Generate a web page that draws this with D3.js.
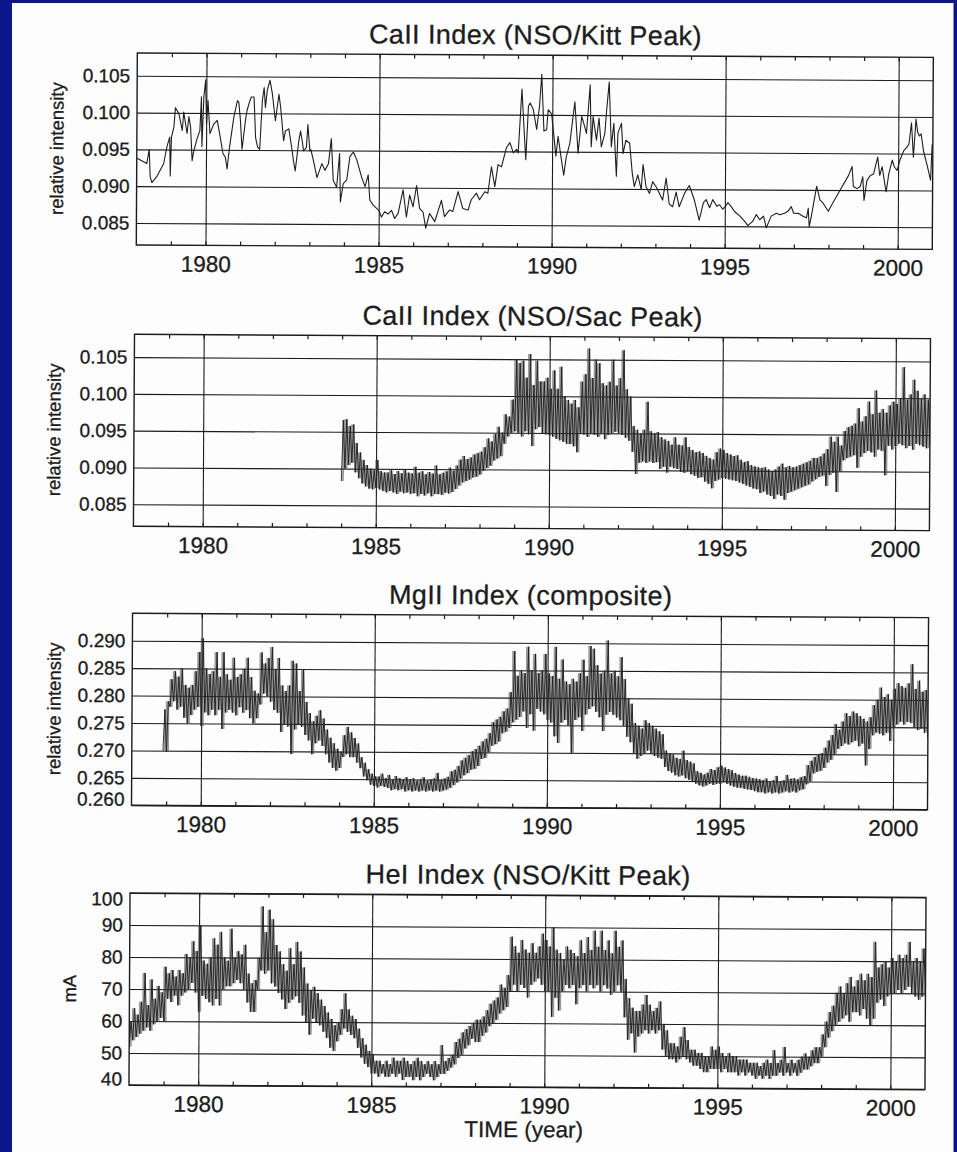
<!DOCTYPE html>
<html><head><meta charset="utf-8">
<script src="https://cdn.jsdelivr.net/npm/d3@7"></script>
<style>body{margin:0;background:#0a168a;}svg{display:block}</style>
</head><body>
<svg id="chart" width="957" height="1152"></svg>
<script>
// ---------------- DATA ----------------
const xTickYears = [1980, 1985, 1990, 1995, 2000];
const minorTickYears = d3.range(1979, 2001);
const timeDomain = [1978, 2001];

const caTicks = [0.085, 0.090, 0.095, 0.100, 0.105];
const mgTicks = [0.260, 0.265, 0.270, 0.275, 0.280, 0.285, 0.290];
const heTicks = [40, 50, 60, 70, 80, 90, 100];

const titles = ["CaII Index (NSO/Kitt Peak)", "CaII Index (NSO/Sac Peak)", "MgII Index (composite)", "HeI Index (NSO/Kitt Peak)"];
const yLabels = ["relative intensity", "relative intensity", "relative intensity", "mA"];
const xLabel = "TIME (year)";

// Panel 1: CaII K, NSO/Kitt Peak (individual measurements)
const kittYears = [1978.01,1978.29,1978.36,1978.39,1978.44,1978.58,1978.78,1978.87,1978.95,1978.97,1979.00,1979.07,1979.11,1979.21,1979.31,1979.35,1979.45,1979.50,1979.55,1979.60,1979.64,1979.74,1979.82,1979.86,1979.88,1979.93,1979.98,1980.01,1980.05,1980.11,1980.22,1980.32,1980.41,1980.49,1980.56,1980.61,1980.68,1980.80,1980.90,1980.94,1980.99,1981.04,1981.14,1981.18,1981.26,1981.30,1981.38,1981.43,1981.49,1981.55,1981.62,1981.67,1981.71,1981.76,1981.84,1981.91,1982.00,1982.10,1982.15,1982.24,1982.29,1982.39,1982.49,1982.53,1982.58,1982.68,1982.73,1982.77,1982.82,1982.90,1982.94,1983.00,1983.03,1983.11,1983.21,1983.35,1983.44,1983.54,1983.62,1983.68,1983.78,1983.86,1983.89,1983.97,1984.07,1984.16,1984.26,1984.36,1984.50,1984.60,1984.69,1984.74,1984.84,1985.00,1985.08,1985.17,1985.27,1985.37,1985.46,1985.56,1985.70,1985.80,1985.89,1985.99,1986.09,1986.18,1986.28,1986.36,1986.47,1986.62,1986.81,1986.90,1987.05,1987.14,1987.29,1987.43,1987.58,1987.67,1987.82,1987.91,1988.06,1988.15,1988.25,1988.35,1988.44,1988.54,1988.68,1988.78,1988.88,1988.97,1989.02,1989.12,1989.18,1989.24,1989.31,1989.36,1989.45,1989.55,1989.63,1989.69,1989.76,1989.84,1989.88,1989.98,1990.03,1990.11,1990.17,1990.27,1990.34,1990.41,1990.51,1990.65,1990.75,1990.85,1990.94,1990.99,1991.09,1991.13,1991.18,1991.28,1991.35,1991.42,1991.52,1991.57,1991.64,1991.71,1991.78,1991.86,1991.90,1992.00,1992.05,1992.13,1992.24,1992.32,1992.38,1992.48,1992.58,1992.63,1992.72,1992.82,1992.91,1993.01,1993.11,1993.20,1993.30,1993.39,1993.49,1993.59,1993.68,1993.83,1993.97,1994.12,1994.26,1994.31,1994.38,1994.46,1994.56,1994.65,1994.77,1994.85,1994.94,1995.02,1995.09,1995.18,1995.28,1995.43,1995.57,1995.67,1995.81,1995.91,1996.01,1996.12,1996.20,1996.34,1996.49,1996.59,1996.73,1996.83,1996.92,1996.99,1997.12,1997.26,1997.36,1997.41,1997.44,1997.50,1997.65,1997.75,1997.84,1997.99,1998.09,1998.33,1998.57,1998.67,1998.71,1998.81,1998.91,1998.98,1999.02,1999.10,1999.20,1999.29,1999.41,1999.47,1999.54,1999.63,1999.66,1999.73,1999.83,1999.89,1999.97,2000.05,2000.16,2000.26,2000.31,2000.38,2000.44,2000.51,2000.56,2000.61,2000.66,2000.73,2000.83,2000.94,2000.98];
const kittValues = [0.0938,0.0931,0.0950,0.0913,0.0905,0.0913,0.0931,0.0954,0.0967,0.0914,0.0967,0.0981,0.1007,0.0999,0.0976,0.1001,0.0972,0.0995,0.0981,0.0935,0.0947,0.0965,0.0976,0.1022,0.0954,0.1022,0.1045,0.0985,0.1017,0.0972,0.0985,0.0990,0.0967,0.0945,0.0940,0.0924,0.0954,0.0995,0.1017,0.1015,0.0990,0.0951,0.0992,0.1004,0.1017,0.1022,0.1022,0.0967,0.0954,0.0951,0.1017,0.1035,0.1008,0.1031,0.1045,0.1026,0.0990,0.1026,0.1008,0.0963,0.0976,0.0979,0.0949,0.0935,0.0922,0.0963,0.0976,0.0965,0.0949,0.0954,0.0985,0.0949,0.0951,0.0935,0.0913,0.0932,0.0923,0.0932,0.0966,0.0909,0.0900,0.0946,0.0880,0.0905,0.0910,0.0942,0.0948,0.0937,0.0914,0.0901,0.0917,0.0883,0.0876,0.0869,0.0860,0.0867,0.0864,0.0869,0.0858,0.0865,0.0897,0.0860,0.0890,0.0874,0.0903,0.0872,0.0867,0.0845,0.0865,0.0854,0.0883,0.0861,0.0870,0.0868,0.0895,0.0872,0.0870,0.0884,0.0893,0.0884,0.0895,0.0893,0.0929,0.0902,0.0932,0.0929,0.0955,0.0962,0.0948,0.0953,0.0948,0.1035,0.0985,0.0939,0.1012,0.1016,0.1007,0.0980,0.1012,0.1055,0.0978,0.0980,0.1007,0.1001,0.0980,0.0944,0.0971,0.0939,0.0918,0.0943,0.0961,0.1018,0.0948,0.0998,0.0984,0.0975,0.1041,0.0957,0.0998,0.0966,0.0996,0.0957,0.0975,0.1007,0.1045,0.0957,0.0989,0.0917,0.0976,0.0989,0.0948,0.0966,0.0962,0.0921,0.0903,0.0919,0.0899,0.0933,0.0903,0.0894,0.0910,0.0903,0.0894,0.0885,0.0915,0.0880,0.0876,0.0896,0.0876,0.0894,0.0905,0.0885,0.0858,0.0868,0.0882,0.0886,0.0875,0.0886,0.0877,0.0879,0.0873,0.0877,0.0882,0.0877,0.0870,0.0864,0.0857,0.0851,0.0857,0.0866,0.0859,0.0864,0.0848,0.0864,0.0868,0.0866,0.0868,0.0871,0.0877,0.0868,0.0868,0.0864,0.0862,0.0875,0.0850,0.0864,0.0905,0.0886,0.0882,0.0871,0.0880,0.0900,0.0920,0.0932,0.0905,0.0902,0.0905,0.0918,0.0886,0.0913,0.0920,0.0922,0.0945,0.0920,0.0932,0.0905,0.0898,0.0922,0.0941,0.0932,0.0927,0.0941,0.0954,0.0959,0.0963,0.0992,0.0945,0.0997,0.0979,0.0974,0.0977,0.0954,0.0936,0.0914,0.0963];

// Panels 2-4: dense daily series, given as low/high values per 0.1-year bin
const binStep = 0.1;
const sacStart = 1984.0;
const sacLow = [.0883,.0900,.0905,.0908,.0895,.0887,.0880,.0876,.0873,.0872,
.0874,.0872,.0870,.0868,.0870,.0868,.0866,.0869,.0867,.0868,
.0866,.0867,.0863,.0866,.0864,.0867,.0863,.0866,.0866,.0865,
.0868,.0867,.0869,.0873,.0878,.0882,.0884,.0886,.0889,.0890,
.0893,.0898,.0902,.0905,.0912,.0915,.0918,.0935,.0945,.0950,
.0952,.0950,.0945,.0952,.0948,.0932,.0955,.0958,.0950,.0948,
.0947,.0945,.0942,.0940,.0938,.0935,.0935,.0932,.0924,.0950,
.0948,.0945,.0950,.0948,.0945,.0950,.0942,.0948,.0950,.0952,
.0950,.0948,.0944,.0940,.0925,.0895,.0910,.0912,.0910,.0912,
.0910,.0911,.0902,.0905,.0897,.0905,.0903,.0902,.0898,.0897,
.0899,.0895,.0893,.0890,.0891,.0885,.0882,.0876,.0886,.0888,
.0890,.0889,.0888,.0887,.0886,.0884,.0882,.0880,.0878,.0876,
.0875,.0870,.0872,.0868,.0866,.0862,.0868,.0866,.0861,.0870,
.0872,.0874,.0876,.0878,.0880,.0882,.0886,.0889,.0892,.0894,
.0880,.0895,.0898,.0872,.0900,.0915,.0918,.0920,.0922,.0905,
.0920,.0925,.0928,.0926,.0920,.0930,.0928,.0895,.0935,.0930,
.0935,.0938,.0936,.0932,.0935,.0930,.0938,.0936,.0934,.0932,
.0935];
const sacHigh = [.0966,.0967,.0958,.0960,.0935,.0922,.0912,.0905,.0900,.0898,
.0912,.0897,.0895,.0895,.0898,.0893,.0897,.0894,.0899,.0895,
.0894,.0903,.0895,.0897,.0893,.0896,.0894,.0905,.0893,.0895,
.0897,.0902,.0898,.0905,.0913,.0918,.0914,.0916,.0920,.0922,
.0924,.0930,.0942,.0938,.0948,.0958,.0950,.0975,.0972,.0995,
.1050,.1045,.1048,.1025,.1057,.1015,.1048,.1020,.1020,.1025,
.1010,.1035,.1010,.1040,.1000,.0995,.0990,.0995,.0985,.1020,
.1030,.1065,.1025,.1050,.1045,.1018,.1015,.1020,.1050,.1015,
.1025,.1063,.1010,.1000,.0960,.0955,.0950,.0955,.0993,.0953,
.0950,.0952,.0945,.0942,.0940,.0935,.0945,.0935,.0934,.0945,
.0932,.0928,.0925,.0926,.0924,.0920,.0917,.0915,.0925,.0930,
.0928,.0924,.0922,.0920,.0921,.0915,.0912,.0913,.0908,.0906,
.0905,.0904,.0905,.0902,.0900,.0902,.0906,.0910,.0905,.0907,
.0905,.0906,.0908,.0910,.0912,.0914,.0918,.0918,.0920,.0924,
.0930,.0947,.0940,.0947,.0935,.0955,.0960,.0962,.0965,.0986,
.0968,.0975,.0995,.0978,.1010,.0980,.0985,.0980,.0990,.0995,
.0992,.1000,.1042,.0998,.1005,.1025,.1010,.1000,.1005,.0998,
.0995];

const mgStart = 1978.9;
const mgLow = [.2700,
.2698,.2780,.2790,.2775,.2780,.2760,.2750,.2765,.2775,.2780,
.2745,.2770,.2765,.2775,.2765,.2775,.2740,.2770,.2775,.2770,
.2765,.2780,.2770,.2775,.2760,.2750,.2760,.2785,.2805,.2800,
.2790,.2775,.2770,.2735,.2750,.2745,.2695,.2740,.2750,.2745,
.2730,.2720,.2695,.2715,.2720,.2710,.2695,.2680,.2670,.2665,
.2670,.2690,.2695,.2690,.2690,.2680,.2670,.2655,.2648,.2640,
.2638,.2635,.2638,.2636,.2634,.2630,.2632,.2630,.2632,.2628,
.2630,.2628,.2630,.2628,.2630,.2628,.2630,.2628,.2630,.2628,
.2630,.2632,.2635,.2640,.2645,.2652,.2658,.2662,.2668,.2670,
.2675,.2688,.2690,.2700,.2712,.2715,.2720,.2735,.2738,.2745,
.2755,.2760,.2765,.2775,.2745,.2770,.2740,.2780,.2775,.2770,
.2760,.2755,.2730,.2718,.2755,.2760,.2750,.2700,.2760,.2765,
.2740,.2770,.2780,.2785,.2775,.2765,.2740,.2770,.2775,.2770,
.2765,.2760,.2750,.2730,.2720,.2700,.2690,.2695,.2700,.2705,
.2700,.2695,.2692,.2690,.2675,.2668,.2665,.2660,.2658,.2660,
.2655,.2652,.2650,.2645,.2642,.2640,.2642,.2645,.2643,.2645,
.2645,.2648,.2645,.2642,.2640,.2638,.2638,.2636,.2635,.2634,
.2632,.2630,.2630,.2628,.2630,.2628,.2630,.2628,.2630,.2632,
.2630,.2632,.2630,.2634,.2636,.2645,.2650,.2665,.2668,.2670,
.2675,.2685,.2690,.2700,.2710,.2715,.2720,.2718,.2722,.2725,
.2715,.2720,.2680,.2710,.2735,.2740,.2738,.2735,.2740,.2725,
.2750,.2755,.2760,.2755,.2760,.2758,.2750,.2745,.2748,.2740,
.2730];
const mgHigh = [.2775,
.2790,.2830,.2845,.2835,.2850,.2820,.2815,.2820,.2845,.2880,
.2905,.2850,.2840,.2845,.2880,.2835,.2880,.2840,.2830,.2870,
.2835,.2840,.2850,.2870,.2835,.2810,.2805,.2880,.2860,.2870,
.2890,.2850,.2870,.2820,.2810,.2820,.2865,.2860,.2810,.2850,
.2790,.2770,.2755,.2765,.2775,.2760,.2740,.2725,.2715,.2705,
.2700,.2730,.2745,.2735,.2725,.2715,.2690,.2680,.2668,.2660,
.2655,.2655,.2660,.2652,.2658,.2650,.2656,.2652,.2650,.2654,
.2650,.2652,.2648,.2650,.2654,.2648,.2650,.2652,.2662,.2650,
.2652,.2655,.2665,.2668,.2675,.2685,.2690,.2695,.2702,.2706,
.2712,.2720,.2725,.2735,.2755,.2760,.2765,.2775,.2780,.2810,
.2885,.2840,.2850,.2845,.2893,.2850,.2880,.2845,.2850,.2880,
.2845,.2840,.2893,.2835,.2870,.2830,.2825,.2835,.2830,.2845,
.2870,.2840,.2895,.2890,.2860,.2845,.2850,.2905,.2845,.2850,
.2840,.2875,.2835,.2800,.2790,.2755,.2750,.2745,.2760,.2755,
.2750,.2745,.2740,.2735,.2705,.2700,.2698,.2692,.2690,.2705,
.2688,.2685,.2682,.2668,.2665,.2662,.2665,.2672,.2670,.2675,
.2678,.2675,.2672,.2670,.2665,.2662,.2660,.2660,.2658,.2656,
.2655,.2654,.2652,.2655,.2650,.2652,.2660,.2650,.2652,.2662,
.2655,.2656,.2654,.2658,.2660,.2680,.2688,.2695,.2700,.2702,
.2712,.2725,.2735,.2755,.2745,.2760,.2775,.2770,.2778,.2775,
.2770,.2765,.2760,.2768,.2790,.2800,.2822,.2805,.2810,.2800,
.2820,.2830,.2825,.2822,.2830,.2865,.2820,.2835,.2815,.2818,
.2800];

const heStart = 1978.0;
const heLow = [52,54,55,56,57,58,57,59,60,61,
60,67,66,68,65,68,69,70,72,69,
63,68,67,66,65,67,65,70,71,71,
72,73,72,70,66,63,63,70,76,75,
76,72,71,69,67,64,66,67,68,66,
62,60,56,61,60,59,57,55,52,51,
54,56,58,57,56,55,52,49,47,46,
44,44,43,44,43,43,44,43,44,42,
43,43,42,43,42,43,44,43,42,43,
44,44,45,46,47,49,50,52,53,55,
54,54,56,57,59,60,61,63,64,65,
70,72,70,72,71,68,72,73,74,72,
70,70,62,68,64,70,72,71,72,66,
71,72,70,72,71,72,70,72,71,69,
70,72,70,62,55,57,51,56,57,58,
57,58,57,58,52,50,49,49,48,49,
50,49,48,47,47,46,45,45,46,46,
46,45,46,45,45,45,44,45,44,45,
44,43,44,43,44,43,44,44,45,44,
45,44,45,44,45,46,46,47,48,48,
50,53,56,58,60,61,62,63,61,64,
64,63,65,62,60,62,67,68,66,69,
70,70,71,70,71,72,70,69,68,69,
70];
const heHigh = [60,64,62,66,75,65,73,67,71,69,
77,75,76,74,76,75,81,80,85,82,
90,79,78,80,86,84,88,80,79,89,
80,82,81,84,75,72,73,80,96,88,
95,92,84,82,78,76,83,78,85,82,
77,72,70,71,69,67,65,63,61,59,
60,64,69,64,62,61,58,55,53,51,
50,48,48,47,48,47,49,48,48,49,
48,47,48,49,48,47,48,47,48,47,
53,48,49,50,54,55,57,58,59,60,
61,61,62,64,66,67,68,72,71,75,
87,84,82,86,83,82,85,82,84,88,
86,84,90,83,82,80,84,83,82,81,
86,82,87,83,89,84,89,83,86,82,
89,84,86,74,68,65,64,64,66,69,
66,64,65,67,60,58,54,54,53,56,
59,55,52,52,51,51,50,50,53,52,
53,51,50,51,50,50,49,49,49,48,
48,48,47,48,49,48,52,48,49,53,
48,49,48,49,50,51,50,52,53,53,
57,61,64,66,70,72,70,73,75,72,
74,76,74,76,75,86,78,79,80,78,
81,80,82,81,82,86,80,81,80,84,
78];

// ---------------- DRAWING ----------------
function pairs(xs, ys) { return xs.map((t, i) => [t, ys[i]]); }
function envelope(start, low, high) {
  const pts = [];
  low.forEach((lo, i) => {
    const t = start + i * binStep;
    pts.push([t, lo]);
    pts.push([t + binStep / 2, high[i]]);
  });
  return pts;
}
function bands(start, low, high) {
  return low.map((lo, i) => ({ t: start + i * binStep + binStep / 4, lo: lo, hi: high[i] }));
}

const FONT = "'Liberation Sans', Arial, Helvetica, sans-serif";
const INK = "#1c1c1c";
const PW = 796, PH = 192;

const panels = [
  { left: 134.5, top: 55.2, domain: [0.0820, 0.1081], ticks: caTicks, fmt: d3.format(".3f"), labelX: -80,
    data: pairs(kittYears, kittValues), band: null, sw: 1.1 },
  { left: 133.2, top: 336.5, domain: [0.0820, 0.1081], ticks: caTicks, fmt: d3.format(".3f"), labelX: -80,
    data: envelope(sacStart, sacLow, sacHigh), band: bands(sacStart, sacLow, sacHigh), sw: 0.9 },
  { left: 132.8, top: 615.5, domain: [0.260, 0.295], ticks: mgTicks, fmt: d3.format(".3f"), labelX: -78,
    data: envelope(mgStart, mgLow, mgHigh), band: bands(mgStart, mgLow, mgHigh), sw: 0.9 },
  { left: 131.8, top: 895.2, domain: [40, 100], ticks: heTicks, fmt: d3.format("d"), labelX: -60,
    data: envelope(heStart, heLow, heHigh), band: bands(heStart, heLow, heHigh), sw: 0.9 }
];

const svg = d3.select("#chart");
svg.append("rect").attr("width", 957).attr("height", 1152).attr("fill", "#0a168a");
svg.append("rect").attr("x", 12).attr("y", 3).attr("width", 941.5).attr("height", 1149).attr("fill", "#fdfdfd");

const root = svg.append("g").attr("transform", "rotate(0.315,535,570)");

function styleText(sel, size) {
  sel.attr("font-family", FONT).attr("font-size", size).attr("fill", INK)
    .attr("stroke", INK).attr("stroke-width", 0.3);
}

panels.forEach((p, i) => {
  const g = root.append("g").attr("transform", `translate(${p.left},${p.top})`);
  const x = d3.scaleLinear().domain(timeDomain).range([0, PW]);
  const y = d3.scaleLinear().domain(p.domain).range([PH, 0]);

  g.append("clipPath").attr("id", "clip" + i)
    .append("rect").attr("width", PW).attr("height", PH);

  // horizontal grid + y labels
  const ya = g.append("g").call(
    d3.axisLeft(y).tickValues(p.ticks).tickSize(-PW).tickPadding(7).tickFormat(p.fmt));
  ya.select(".domain").remove();
  ya.selectAll(".tick line").attr("stroke", INK).attr("stroke-width", 1.1);
  styleText(ya.selectAll(".tick text"), 19);
  ya.selectAll(".tick text").attr("transform", d => {
      const py = y(d);
      if (py > PH - 2) return "translate(0,-6)";
      if (py < 2) return "translate(0,6)";
      return null;
    });

  // vertical grid + x labels
  const xa = g.append("g").attr("transform", `translate(0,${PH})`).call(
    d3.axisBottom(x).tickValues(xTickYears).tickSize(-PH).tickPadding(10.5).tickFormat(d3.format("d")));
  xa.select(".domain").remove();
  xa.selectAll(".tick line").attr("stroke", INK).attr("stroke-width", 1.1);
  styleText(xa.selectAll(".tick text"), 22.5);

  // minor yearly ticks (bottom & top, inside)
  const mb = g.append("g").attr("transform", `translate(0,${PH})`).call(
    d3.axisBottom(x).tickValues(minorTickYears).tickSize(-4).tickFormat(""));
  mb.select(".domain").remove();
  mb.selectAll(".tick line").attr("stroke", INK).attr("stroke-width", 1.2);
  const mt = g.append("g").call(
    d3.axisTop(x).tickValues(minorTickYears).tickSize(-4).tickFormat(""));
  mt.select(".domain").remove();
  mt.selectAll(".tick line").attr("stroke", INK).attr("stroke-width", 1.2);

  // data
  const plot = g.append("g").attr("clip-path", `url(#clip${i})`);
  if (p.band) {
    const area = d3.area().x(d => x(d.t)).y0(d => y(d.lo)).y1(d => y(d.hi)).curve(d3.curveStep);
    plot.append("path").datum(p.band).attr("d", area)
      .attr("fill", "#4a4a4a").attr("fill-opacity", 0.55);
  }
  const line = d3.line().x(d => x(d[0])).y(d => y(d[1]));
  plot.append("path").datum(p.data)
    .attr("d", line).attr("fill", "none")
    .attr("stroke", "#1e1e1e").attr("stroke-width", p.sw).attr("stroke-linejoin", "round");

  // frame
  g.append("rect").attr("width", PW).attr("height", PH)
    .attr("fill", "none").attr("stroke", INK).attr("stroke-width", 1.4);

  // title
  const tt = g.append("text").attr("x", PW / 2).attr("y", -11).attr("text-anchor", "middle")
    .attr("letter-spacing", 0.4).text(titles[i]);
  styleText(tt, 27);

  // y label
  const yl = g.append("text").attr("transform", `translate(${p.labelX},${PH / 2}) rotate(-90)`)
    .attr("text-anchor", "middle").attr("dy", "0.35em").text(yLabels[i]);
  styleText(yl, 18.5);

  if (i === 3) {
    const xl = g.append("text").attr("x", PW / 2 - 3).attr("y", PH + 50).attr("text-anchor", "middle")
      .text(xLabel);
    styleText(xl, 22.5);
  }
});
</script>
</body></html>
